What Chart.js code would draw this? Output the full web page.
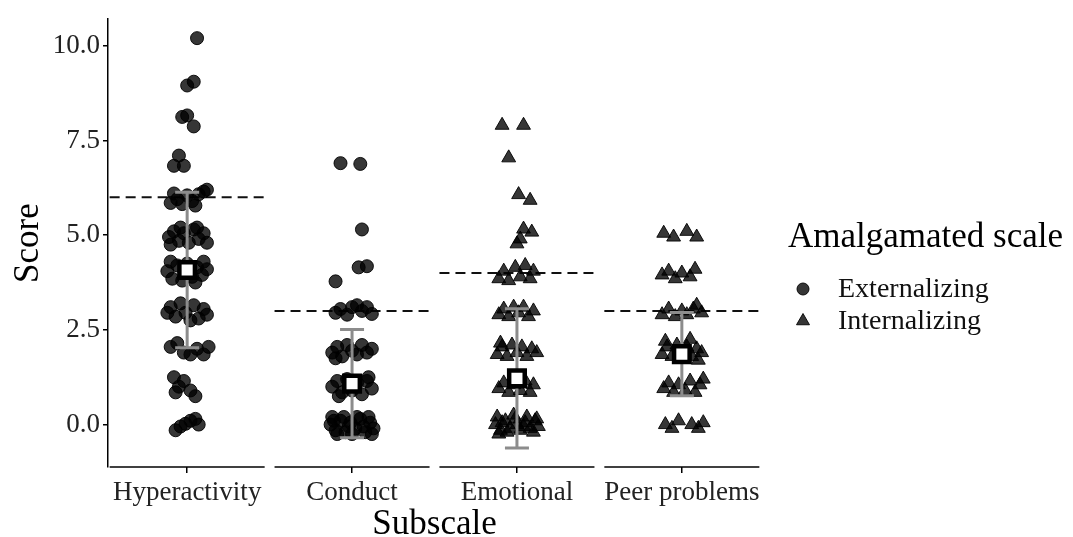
<!DOCTYPE html>
<html>
<head>
<meta charset="utf-8">
<script src="https://cdn.jsdelivr.net/npm/chart.js@4/dist/chart.umd.min.js"></script>
<style>
  html, body { margin: 0; padding: 0; background: #fff; }
  #wrap { width: 1073px; height: 537px; }
</style>
</head>
<body>
<div id="wrap"><canvas id="chart"></canvas></div>
<script>
// Data
const subscales = ["Hyperactivity", "Conduct", "Emotional", "Peer problems"];
const scaleGroup = ["Externalizing", "Externalizing", "Internalizing", "Internalizing"];
const cutoffs = [6, 3, 4, 3];
const means = [4.08, 1.08, 1.22, 1.86];
const sds = [2.05, 1.43, 1.84, 1.10];
const yTicks = [0, 2.5, 5, 7.5, 10];

// [horizontal jitter, score] per child
const hyperactivity = [
  [0.06, 10.2], [0.0, 8.95], [0.04, 9.05], [-0.03, 8.12], [0.0, 8.16], [0.04, 7.87],
  [-0.05, 7.1], [-0.08, 6.83], [-0.02, 6.83],
  [-0.1, 5.85], [-0.06, 5.95], [-0.03, 5.82], [0.0, 6.05], [0.03, 5.9], [0.07, 6.08],
  [0.1, 6.15], [0.12, 6.2], [-0.08, 6.1], [0.05, 5.78],
  [-0.11, 4.95], [-0.08, 5.1], [-0.05, 4.85], [-0.02, 5.05], [0.01, 4.8], [0.04, 5.15],
  [0.07, 4.9], [0.1, 5.05], [0.12, 4.8], [-0.1, 4.75], [0.06, 5.2], [-0.04, 5.2],
  [-0.12, 4.05], [-0.09, 3.85], [-0.06, 4.2], [-0.03, 3.8], [0.0, 4.25], [0.03, 3.9],
  [0.06, 4.15], [0.09, 3.95], [0.12, 4.1], [-0.1, 4.3], [0.05, 3.75], [0.1, 4.3],
  [-0.1, 3.1], [-0.07, 2.85], [-0.04, 3.2], [-0.01, 2.95], [0.04, 3.15], [0.07, 2.8],
  [0.1, 3.05], [0.12, 2.9], [-0.12, 2.95], [0.02, 2.75],
  [-0.1, 2.05], [-0.06, 2.15], [-0.02, 1.9], [0.02, 1.85], [0.06, 2.0], [0.1, 1.85], [0.13, 2.05],
  [-0.08, 1.25], [-0.05, 1.0], [-0.02, 1.15], [0.02, 0.9], [0.05, 0.75], [-0.07, 0.85],
  [-0.07, -0.15], [-0.04, -0.05], [-0.01, 0.02], [0.02, 0.1], [0.05, 0.15], [0.07, 0.0]
];
const conduct = [
  [-0.07, 6.9], [0.05, 6.88], [0.06, 5.15], [0.04, 4.15], [0.09, 4.18], [-0.1, 3.78],
  [-0.1, 2.95], [-0.07, 3.05], [-0.03, 2.9], [0.0, 3.1], [0.03, 3.15], [0.06, 3.0], [0.09, 3.1], [0.12, 2.92],
  [-0.12, 1.9], [-0.09, 2.05], [-0.06, 1.8], [-0.03, 2.1], [0.0, 1.95], [0.03, 1.85],
  [0.06, 2.1], [0.09, 1.9], [0.12, 2.0], [-0.1, 1.75],
  [-0.12, 1.0], [-0.09, 1.15], [-0.06, 0.85], [-0.03, 1.2], [0.0, 0.9], [0.03, 1.1],
  [0.06, 0.8], [0.09, 1.15], [0.12, 0.95], [-0.08, 0.75], [0.1, 1.25],
  [-0.13, 0.0], [-0.1, -0.15], [-0.07, 0.1], [-0.04, -0.2], [-0.01, 0.05], [0.02, -0.1],
  [0.05, 0.15], [0.08, -0.2], [0.11, 0.05], [0.13, -0.1], [-0.12, 0.2], [-0.05, 0.2],
  [0.03, 0.2], [0.1, 0.2], [-0.09, -0.25], [0.0, -0.25], [0.07, -0.05], [-0.02, -0.05],
  [0.12, -0.25], [-0.11, 0.1]
];
const emotional = [
  [-0.09, 7.9], [0.04, 7.9], [-0.05, 7.04], [0.01, 6.07], [0.08, 5.92],
  [0.04, 5.16], [0.09, 5.08], [0.02, 4.9], [0.0, 4.77],
  [-0.11, 3.85], [-0.08, 4.05], [-0.05, 3.8], [-0.01, 4.15], [0.02, 3.9], [0.05, 4.2], [0.08, 3.85], [0.1, 4.05],
  [-0.11, 2.9], [-0.08, 3.05], [-0.05, 2.85], [-0.02, 3.1], [0.01, 2.95], [0.04, 3.1], [0.07, 2.85], [0.1, 3.0],
  [-0.12, 1.85], [-0.09, 2.05], [-0.06, 1.8], [-0.03, 2.1], [0.0, 1.9], [0.03, 2.05],
  [0.06, 1.8], [0.09, 2.0], [0.12, 1.9], [-0.1, 2.15],
  [-0.11, 0.95], [-0.08, 1.1], [-0.05, 0.85], [-0.02, 1.05], [0.02, 0.9], [0.05, 1.15], [0.08, 0.85], [0.1, 1.05],
  [-0.13, 0.0], [-0.1, -0.15], [-0.07, 0.1], [-0.04, -0.1], [-0.01, 0.15], [0.02, -0.15],
  [0.05, 0.05], [0.08, -0.1], [0.11, 0.1], [0.13, -0.05], [-0.12, 0.2], [-0.06, -0.2],
  [0.0, 0.0], [0.06, 0.2], [0.1, -0.2], [-0.09, 0.05], [0.04, -0.05], [-0.02, 0.25],
  [0.12, 0.15], [-0.11, -0.25]
];
const peerProblems = [
  [-0.11, 5.05], [-0.05, 4.95], [0.03, 5.1], [0.09, 4.95],
  [-0.12, 3.95], [-0.08, 4.05], [-0.04, 3.85], [0.0, 4.0], [0.05, 3.9], [0.08, 4.1],
  [-0.12, 2.9], [-0.08, 3.05], [-0.04, 2.85], [0.0, 3.0], [0.03, 2.9], [0.07, 3.05], [0.12, 2.95], [0.09, 3.15],
  [-0.12, 1.85], [-0.09, 2.05], [-0.06, 1.8], [-0.03, 2.1], [0.0, 1.9], [0.03, 2.05],
  [0.06, 1.8], [0.09, 2.0], [0.12, 1.9], [-0.1, 2.2], [0.05, 2.25], [0.1, 1.7],
  [-0.11, 0.95], [-0.08, 1.1], [-0.05, 0.85], [-0.02, 1.05], [0.02, 0.9], [0.05, 1.15],
  [0.08, 0.85], [0.11, 1.05], [0.13, 1.2],
  [-0.1, 0.0], [-0.06, -0.1], [-0.02, 0.1], [0.06, 0.0], [0.1, -0.1], [0.13, 0.05]
];

const allScores = [hyperactivity, conduct, emotional, peerProblems];
const HALF = 0.47; // half width of one panel, in category units

const SERIF = "'Liberation Serif', 'Times New Roman', serif";
const pointFill = "rgba(0,0,0,0.79)";
const pointEdge = "rgba(0,0,0,0.9)";
const shapes = { Externalizing: "circle", Internalizing: "triangle" };
const radii = { Externalizing: 6.5, Internalizing: 8 };

// build datasets (higher "order" is drawn first, i.e. underneath)
const datasets = [];

cutoffs.forEach((c, i) => {
  datasets.push({
    type: "line",
    label: "cutoff",
    order: 3,
    data: [{ x: i + 1 - HALF, y: c }, { x: i + 1 + HALF, y: c }],
    borderColor: "#111",
    borderWidth: 2,
    borderDash: [10, 6],
    pointRadius: 0,
    fill: false
  });
});

["Externalizing", "Internalizing"].forEach(group => {
  const pts = [];
  allScores.forEach((list, i) => {
    if (scaleGroup[i] !== group) return;
    list.forEach(p => pts.push({ x: i + 1 + p[0], y: p[1] }));
  });
  datasets.push({
    type: "scatter",
    label: group,
    order: 2,
    data: pts,
    pointStyle: shapes[group],
    pointRadius: radii[group],
    backgroundColor: pointFill,
    borderColor: pointEdge,
    borderWidth: 1
  });
});

datasets.push({
  type: "scatter",
  label: "Mean",
  order: 0,
  data: means.map((m, i) => ({ x: i + 1, y: m })),
  pointStyle: "rect",
  pointRadius: 11,
  backgroundColor: "#fff",
  borderColor: "#000",
  borderWidth: 4.5
});

// error bars (mean +/- SD), drawn just before the mean squares
const errorBars = {
  id: "errorBars",
  beforeDatasetDraw(chart, args) {
    if (chart.data.datasets[args.index].label !== "Mean") return;
    const { ctx, scales: { x, y } } = chart;
    ctx.save();
    ctx.strokeStyle = "#8c8c8c";
    ctx.lineWidth = 3;
    means.forEach((m, i) => {
      const px = x.getPixelForValue(i + 1);
      const lo = y.getPixelForValue(m - sds[i]);
      const hi = y.getPixelForValue(m + sds[i]);
      ctx.beginPath();
      ctx.moveTo(px, lo); ctx.lineTo(px, hi);
      ctx.moveTo(px - 12, lo); ctx.lineTo(px + 12, lo);
      ctx.moveTo(px - 12, hi); ctx.lineTo(px + 12, hi);
      ctx.stroke();
    });
    ctx.restore();
  }
};

// broken x axis line + legend on the right
const extras = {
  id: "extras",
  afterDraw(chart) {
    const { ctx, chartArea, scales: { x } } = chart;
    ctx.save();
    ctx.strokeStyle = "#000";
    ctx.lineWidth = 1.5;
    subscales.forEach((s, i) => {
      ctx.beginPath();
      ctx.moveTo(x.getPixelForValue(i + 1 - HALF), chartArea.bottom);
      ctx.lineTo(x.getPixelForValue(i + 1 + HALF), chartArea.bottom);
      ctx.stroke();
    });

    ctx.fillStyle = "#000";
    ctx.textBaseline = "middle";
    ctx.textAlign = "left";
    ctx.font = "35px " + SERIF;
    ctx.fillText("Amalgamated scale", 788, 238);
    ctx.font = "28px " + SERIF;
    ["Externalizing", "Internalizing"].forEach((g, k) => {
      const yy = 289 + k * 32;
      ctx.fillStyle = pointFill;
      ctx.strokeStyle = pointEdge;
      ctx.lineWidth = 1;
      Chart.helpers.drawPoint(ctx, { pointStyle: shapes[g], radius: radii[g] - 0.5, rotation: 0, borderWidth: 1 }, 803, yy);
      ctx.fillStyle = "#111";
      ctx.fillText(g, 838, yy + 1);
    });
    ctx.restore();
  }
};

new Chart(document.getElementById("chart"), {
  type: "scatter",
  data: { datasets },
  plugins: [errorBars, extras],
  options: {
    responsive: true,
    maintainAspectRatio: false,
    animation: false,
    events: [],
    layout: { padding: { top: 15, right: 312, left: 0, bottom: 0 } },
    plugins: { legend: { display: false }, tooltip: { enabled: false } },
    scales: {
      x: {
        type: "linear",
        min: 0.52,
        max: 4.48,
        afterBuildTicks: scale => { scale.ticks = subscales.map((s, i) => ({ value: i + 1 })); },
        afterFit: scale => { scale.height = 70; },
        ticks: {
          callback: v => subscales[v - 1],
          color: "#222",
          font: { family: SERIF, size: 27 },
          padding: 4,
          maxRotation: 0,
          autoSkip: false
        },
        grid: { drawOnChartArea: false, tickLength: 6, color: "#000", lineWidth: 1.5 },
        border: { display: false },
        title: {
          display: true,
          text: "Subscale",
          color: "#000",
          font: { family: SERIF, size: 35, lineHeight: 0.7 },
          padding: { top: 0, bottom: 0 }
        }
      },
      y: {
        min: -1.12,
        max: 10.7,
        afterBuildTicks: scale => { scale.ticks = yTicks.map(v => ({ value: v })); },
        afterFit: scale => { scale.width = 108; },
        ticks: {
          callback: v => v.toFixed(1),
          color: "#222",
          font: { family: SERIF, size: 27 },
          padding: 3
        },
        grid: { drawOnChartArea: false, tickLength: 5, color: "#000", lineWidth: 1.5 },
        border: { display: true, color: "#000", width: 1.5 },
        title: {
          display: true,
          text: "Score",
          color: "#000",
          font: { family: SERIF, size: 35, lineHeight: 1 },
          padding: { top: 11, bottom: 0 }
        }
      }
    }
  }
});
</script>
</body>
</html>
